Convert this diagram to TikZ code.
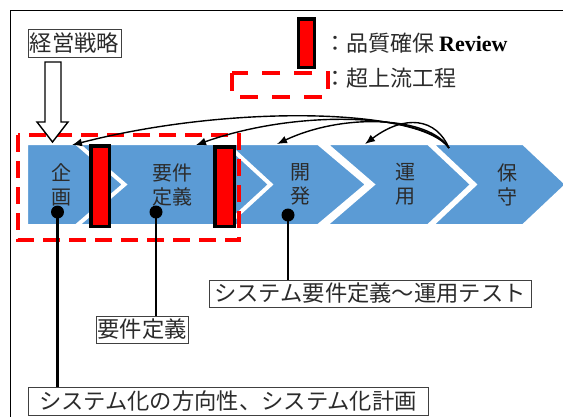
\documentclass[tikz,border=0pt]{standalone}
\usepackage{fontspec}
\setmainfont{Liberation Serif}
\newfontfamily\jp{Noto Sans CJK JP}
\usetikzlibrary{arrows.meta}
\definecolor{chev}{HTML}{5B9BD5}
\definecolor{txt}{HTML}{2B2B2B}
\begin{document}
\begin{tikzpicture}[x=1pt,y=-1pt,
  chevron/.style={fill=chev,draw=white,line width=2pt,line join=miter},
  chevtext/.style={text=txt,font=\jp\fontsize{20}{24}\selectfont,align=center,inner sep=0pt},
  redbar/.style={fill=red,draw=black,line width=3.5pt},
  redframe/.style={draw=red,line width=4pt,dash pattern=on 17pt off 9pt},
  labelbox/.style={draw=black!75,line width=0.8pt,inner sep=0pt,text=txt,font=\jp\fontsize{22.3}{24}\selectfont},
  flow/.style={line width=1.4pt,-{Latex[length=10pt,width=8pt]}},
  pin/.style={line width=2.2pt},
  pindot/.style={circle,fill=black,inner sep=0pt,minimum size=13pt}
]
\useasboundingbox (0,0) rectangle (563,416);
\clip (0,0) rectangle (563,416);
% outer frame
\draw[line width=1.5pt] (10.5,10.5) rectangle (640,470);

% chevrons
\def\T{144}\def\B{225}\def\M{184.5}
\draw[chevron] (27,\T) -- (76,\T) -- (123,\M) -- (76,\B) -- (27,\B) -- cycle;
\draw[chevron] (79,\T) -- (225,\T) -- (269,\M) -- (225,\B) -- (79,\B) -- (126,\M) -- cycle;
\draw[chevron] (228,\T) -- (318,\T) -- (366,\M) -- (318,\B) -- (228,\B) -- (272,\M) -- cycle;
\draw[chevron] (327,\T) -- (428,\T) -- (471,\M) -- (428,\B) -- (327,\B) -- (374,\M) -- cycle;
\draw[chevron] (433,\T) -- (523,\T) -- (566,\M) -- (523,\B) -- (433,\B) -- (476,\M) -- cycle;

\node[chevtext] (kikaku) at (62,184.5) {企\\画};
\node[chevtext] (youken) at (172,184.5) {要件\\定義};
\node[chevtext] (kaihatsu) at (300,184.5) {開\\発};
\node[chevtext] (unyou) at (405,184.5) {運\\用};
\node[chevtext] (hoshu) at (507,184.5) {保\\守};

% super-upstream frame
\draw[redframe] (18,135) rectangle (239,240);

% quality review bars
\draw[redbar] (90.75,145.75) rectangle (109.25,226.25);
\draw[redbar] (214.75,146.75) rectangle (234.25,226.25);

% management strategy box and hollow arrow
\node[labelbox,minimum width=93pt,minimum height=28pt] (keiei) at (74.5,43) {経営戦略};
\draw[line width=1.4pt,fill=white,line join=miter]
  (45,62) -- (61,62) -- (61,122) -- (68,122) -- (52.5,142) -- (37,122) -- (45,122) -- cycle;

% feedback arrows from 保守
\coordinate (src) at (449,148);
\coordinate (t1) at (72,145);
\coordinate (t2) at (196,145);
\coordinate (t3) at (277,144);
\coordinate (t4) at (365,144);
\draw[flow] (src) .. controls (420,108) and (230,104) .. (t1);
\draw[flow] (src) .. controls (425,114) and (300,108) .. (t2);
\draw[flow] (src) .. controls (430,117) and (345,112) .. (t3);
\draw[flow] (src) .. controls (436,118) and (405,114) .. (t4);

% pins and labels
\node[pindot] (d1) at (57.5,212) {};
\node[pindot] (d2) at (156,212) {};
\node[pindot] (d3) at (288,215) {};

\node[labelbox,minimum width=322pt,minimum height=27pt] (systest) at (370,293.5) {システム要件定義～運用テスト};
\node[labelbox,minimum width=92pt,minimum height=27pt] (yk) at (142,329.5) {要件定義};
\node[labelbox,minimum width=400pt,minimum height=28pt] (plan) at (228,401) {システム化の方向性、システム化計画};

\draw[pin] (d1.center) -- (d1 |- plan.north);
\draw[pin] (d2.center) -- (d2 |- yk.north);
\draw[pin] (d3.center) -- (d3 |- systest.north);

% legend
\draw[redbar] (298.5,18.75) rectangle (314.5,67.25);
\node[anchor=west,inner sep=0pt,text=txt,font=\jp\fontsize{22}{24}\selectfont] (leg1) at (324,43) {：品質確保 {\rmfamily\bfseries\color{black}Review}};
\draw[draw=red,line width=4pt,dash pattern=on 18pt off 14pt] (232,73) rectangle (328,97);
\node[anchor=west,inner sep=0pt,text=txt,font=\jp\fontsize{22}{24}\selectfont] (leg2) at (324,78) {：超上流工程};
\end{tikzpicture}
\end{document}
